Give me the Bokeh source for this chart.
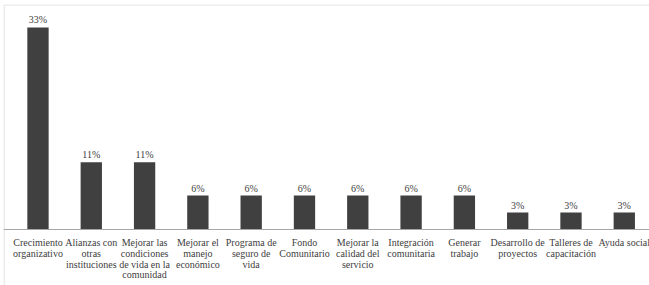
from bokeh.plotting import figure
from bokeh.models import ColumnDataSource, Range1d, Span, BoxAnnotation
from bokeh.core.properties import value
from bokeh.embed import file_html
from bokeh.resources import INLINE

categories = [
    "Crecimiento\norganizativo",
    "Alianzas con\notras\ninstituciones",
    "Mejorar las\ncondiciones\nde vida en la\ncomunidad",
    "Mejorar el\nmanejo\neconómico",
    "Programa de\nseguro de\nvida",
    "Fondo\nComunitario",
    "Mejorar la\ncalidad del\nservicio",
    "Integración\ncomunitaria",
    "Generar\ntrabajo",
    "Desarrollo de\nproyectos",
    "Talleres de\ncapacitación",
    "Ayuda social",
]
values = [33.3, 11.1, 11.1, 5.6, 5.6, 5.6, 5.6, 5.6, 5.6, 2.8, 2.8, 2.8]
value_labels = ["33%", "11%", "11%", "6%", "6%", "6%", "6%", "6%", "6%", "3%", "3%", "3%"]

xs = list(range(len(categories)))
src = ColumnDataSource(dict(x=xs, v=values, lab=value_labels))

# one row per printed line of each category label
lx, ltxt, loff = [], [], []
for i, c in enumerate(categories):
    for k, line in enumerate(c.split("\n")):
        lx.append(i)
        ltxt.append(line)
        loff.append(13.3 + k * 10.7)
lsrc = ColumnDataSource(dict(x=lx, y=[0] * len(lx), t=ltxt, off=loff))

x_start, x_end = -0.647, 11.473
y_start, y_end = -9.23, 37.09

p = figure(width=649, height=285, output_backend="svg", toolbar_location=None,
           x_range=Range1d(x_start, x_end), y_range=Range1d(y_start, y_end),
           min_border=0, min_border_left=3, min_border_right=0,
           min_border_top=4, min_border_bottom=0)
p.axis.visible = False
p.grid.visible = False
p.outline_line_color = None
p.background_fill_color = "white"
p.border_fill_color = "white"

# frame border (only left and top edges fall inside the picture)
p.add_layout(BoxAnnotation(left=x_start + 0.01, top=y_end - 0.08,
                           right=x_end + 2, bottom=y_start - 5,
                           fill_color=None, fill_alpha=0,
                           line_color="#8c8c8c", line_width=1))
p.add_layout(Span(location=0, dimension="width", line_color="#a6a6a6", line_width=1))

p.vbar(x="x", top="v", width=0.4, source=src, fill_color="#404040", line_color=None)

serif = value("Liberation Serif")
p.text(x="x", y="v", text="lab", source=src, text_align="center", text_baseline="alphabetic",
       y_offset=-7.5, text_font=serif, text_font_size="10px", text_color="#404040")

p.text(x="x", y="y", text="t", y_offset="off", source=lsrc, text_align="center",
       text_baseline="alphabetic", text_font=serif, text_font_size="10px",
       text_color="#404040")

open("out.html", "w").write(file_html(p, INLINE))
